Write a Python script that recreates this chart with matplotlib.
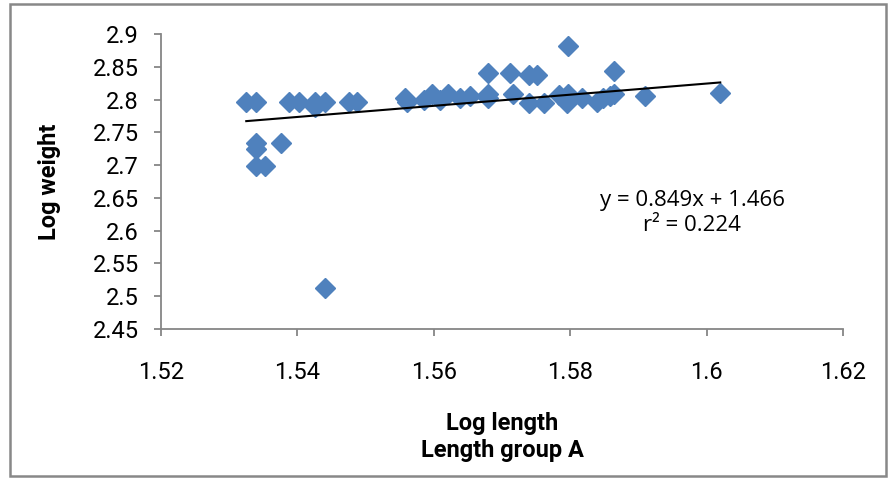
import matplotlib
matplotlib.use('Agg')
import matplotlib.pyplot as plt
import numpy as np
from matplotlib.patches import Rectangle

# values
log_length = [1.5325, 1.5339, 1.5339, 1.5339, 1.5339, 1.5352, 1.5376, 1.5388,
              1.5402, 1.5426, 1.5426, 1.5440, 1.5441, 1.5475, 1.5488,
              1.5558, 1.5560, 1.5585, 1.5597, 1.5609, 1.5621, 1.5638, 1.5653,
              1.5680, 1.5680, 1.5680, 1.5712, 1.5716, 1.5739, 1.5751, 1.5739,
              1.5761, 1.5783, 1.5797, 1.5795, 1.5797, 1.5817, 1.5839, 1.5848,
              1.5858, 1.5864, 1.5864, 1.5910, 1.6020]
log_weight = [2.796, 2.796, 2.733, 2.725, 2.698, 2.698, 2.733, 2.796,
              2.796, 2.788, 2.796, 2.796, 2.512, 2.796, 2.796,
              2.802, 2.796, 2.799, 2.809, 2.799, 2.809, 2.802, 2.805,
              2.840, 2.802, 2.809, 2.840, 2.809, 2.837, 2.837, 2.794,
              2.794, 2.807, 2.809, 2.795, 2.881, 2.802, 2.796, 2.802,
              2.805, 2.809, 2.844, 2.805, 2.810]

slope = 0.849
intercept = 1.466
r2 = 0.224

xticks = [1.52, 1.54, 1.56, 1.58, 1.60, 1.62]
xtick_labels = ['1.52', '1.54', '1.56', '1.58', '1.6', '1.62']
yticks = [2.45, 2.5, 2.55, 2.6, 2.65, 2.7, 2.75, 2.8, 2.85, 2.9]
ytick_labels = ['2.45', '2.5', '2.55', '2.6', '2.65', '2.7', '2.75', '2.8', '2.85', '2.9']

plt.rcParams['font.family'] = ['Roboto', 'DejaVu Sans']

fig = plt.figure(figsize=(8.89, 4.79), dpi=100)
ax = fig.add_axes([161/889, 1 - 329/479, (843 - 161)/889, (329 - 34)/479])

ax.plot(log_length, log_weight, linestyle='none', marker='D', markersize=10.5,
        color='#4F81BD', markeredgecolor='#4F81BD')

xs = np.array([min(log_length), max(log_length)])
ax.plot(xs, slope*xs + intercept, color='black', linewidth=1.5)

ax.set_xlim(1.52, 1.62)
ax.set_ylim(2.45, 2.9)
ax.set_xticks(xticks)
ax.set_xticklabels(xtick_labels)
ax.set_yticks(yticks)
ax.set_yticklabels(ytick_labels)

for s in ['top', 'right']:
    ax.spines[s].set_visible(False)
for s in ['left', 'bottom']:
    ax.spines[s].set_color('#868686')
    ax.spines[s].set_linewidth(1.3)
ax.tick_params(axis='both', direction='out', length=5, width=1.3, color='#868686',
               labelsize=17, labelcolor='black')
ax.tick_params(axis='x', pad=18)
ax.tick_params(axis='y', pad=11)

ax.set_ylabel('Log weight', fontsize=17, fontweight='bold')
ax.yaxis.set_label_coords(-0.147, 0.5)
ax.set_xlabel('Log length\nLength group A', fontsize=17, fontweight='bold',
              linespacing=1.2)
ax.xaxis.set_label_coords(0.5, -0.282)

ax.text(692/889, 1 - 213/479,
        'y = {:.3f}x + {:.3f}\nr² = {:.3f}'.format(slope, intercept, r2),
        transform=fig.transFigure, ha='center', va='center', fontsize=16,
        family=['Open Sans', 'DejaVu Sans'], linespacing=1.3)

fig.patches.append(Rectangle((10/889, 3/479), 876/889, 472/479, transform=fig.transFigure,
                             fill=False, edgecolor='#888888', linewidth=1.8))

fig.savefig('out.png', dpi=100)
